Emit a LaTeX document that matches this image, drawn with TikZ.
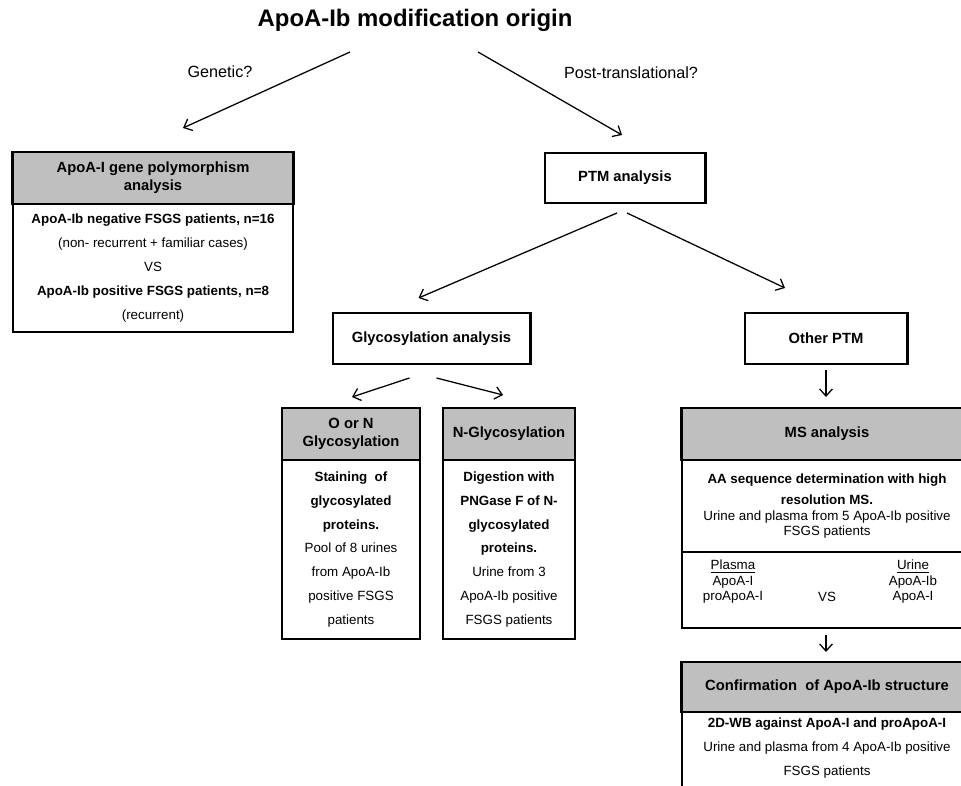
\documentclass[tikz,border=0pt]{standalone}
\usepackage{fontspec}
\setmainfont{Liberation Sans}
\usetikzlibrary{arrows.meta, calc}
\definecolor{headgray}{RGB}{191,191,191}

\begin{document}
\begin{tikzpicture}[x=0.025cm,y=-0.025cm,
  headbox/.style={draw, line width=2.1pt, fill=headgray, outer sep=0pt, inner sep=0pt, align=center, font=\fontsize{10.5}{13}\selectfont\bfseries},
  plainbox/.style={draw, line width=2.1pt, fill=white, outer sep=0pt, inner sep=0pt, align=center, font=\fontsize{10.5}{13}\selectfont\bfseries},
  bodybox/.style={draw, line width=0.8pt, outer sep=0pt, inner sep=0pt, align=center, font=\fontsize{9.5}{17}\selectfont},
  bodytext/.style={inner sep=0pt, align=center, font=\fontsize{9.5}{11}\selectfont},
  arr/.style={line width=0.9pt, -{Straight Barb[length=5pt,width=9pt]}},
  lbl/.style={font=\fontsize{11.5}{14}\selectfont}]
\clip (0,0) rectangle (961,786);
%\draw[step=50,gray,very thin] (0,0) grid (961,786); %background grid

% top
\node[font=\fontsize{17}{20}\selectfont\bfseries] (title) at (415,20) {ApoA-Ib modification origin};
\node[lbl] (genetic) at (220,72) {Genetic?};
\node[lbl] (posttrans) at (631,73) {Post-translational?};

% genetic branch
\node[bodybox, minimum width=7cm, minimum height=3.2cm] (genbody) at (153,268)
  {\textbf{ApoA-Ib negative FSGS patients, n=16}\\(non- recurrent + familiar cases)\\VS\\\textbf{ApoA-Ib positive FSGS patients, n=8}\\(recurrent)};
\node[headbox, minimum width=7cm, minimum height=1.3cm] (genhead) at (153,178) {ApoA-I gene polymorphism\\analysis};

% PTM branch
\node[plainbox, minimum width=4cm, minimum height=1.25cm] (ptm) at (625,178) {PTM analysis};
\node[plainbox, minimum width=4.925cm, minimum height=1.275cm] (glyco) at (431.5,338.5) {Glycosylation analysis};
\node[plainbox, minimum width=4.05cm, minimum height=1.275cm] (other) at (826,338.5) {Other PTM};

% glycosylation boxes
\node[bodybox, minimum width=3.45cm, minimum height=4.475cm] (onbody) at (351,549.5)
  {\textbf{Staining\ \ of}\\\textbf{glycosylated}\\\textbf{proteins.}\\Pool of 8 urines\\from ApoA-Ib\\positive FSGS\\patients};
\node[headbox, minimum width=3.45cm, minimum height=1.3cm] (onhead) at (351,434) {O or N\\Glycosylation};
\node[bodybox, minimum width=3.3cm, minimum height=4.475cm] (nbody) at (509,549.5)
  {\textbf{Digestion with}\\\textbf{PNGase F of N-}\\\textbf{glycosylated}\\\textbf{proteins.}\\Urine from 3\\ApoA-Ib positive\\FSGS patients};
\node[headbox, minimum width=3.3cm, minimum height=1.3cm] (nhead) at (509,434) {N-Glycosylation};

% MS
\node[bodybox, minimum width=7.25cm, minimum height=2.3cm, font=\fontsize{9.5}{11}\selectfont] (msbody) at (827,506)
  {\textbf{AA sequence determination with high}\\[4.5pt]\textbf{resolution MS.}\\Urine and plasma from 5 ApoA-Ib positive\\FSGS patients};
\node[bodybox, minimum width=7.25cm, minimum height=1.9cm] (mscomp) at (827,590) {};
\node[bodytext] (plasma) at (733,582) {\underline{Plasma}\\ApoA-I\\proApoA-I};
\node[bodytext] (vs) at (827,597) {VS};
\node[bodytext] (urine) at (913,582) {\underline{Urine}\\ApoA-Ib\\ApoA-I};
\node[headbox, minimum width=7.25cm, minimum height=1.3cm] (mshead) at (827,434) {MS analysis};

% confirmation
\node[bodybox, minimum width=7.25cm, minimum height=2.2cm] (confbody) at (827,756) {};
\node[bodytext, font=\fontsize{9.5}{17}\selectfont] (conftext) at (827,748)
  {\textbf{2D-WB against ApoA-I and proApoA-I}\\Urine and plasma from 4 ApoA-Ib positive\\FSGS patients};
\node[headbox, minimum width=7.25cm, minimum height=1.25cm] (confhead) at (827,687) {Confirmation\ \ of ApoA-Ib structure};

% arrows
\draw[arr] ($(title)+(-65,32)$) -- ($(genhead.north)+(30,-24)$);
\draw[arr] ($(title)+(63,32)$) -- ($(ptm.north)+(-3,-18)$);
\draw[arr] ($(ptm.south)+(-8,10)$) -- ($(glyco.north)+(-13,-15)$);
\draw[arr] ($(ptm.south)+(2,10)$) -- ($(other.north)+(-41,-25)$);
\draw[arr] ($(glyco.south)+(-22,14)$) -- ($(onhead.north)+(1,-11)$);
\draw[arr] ($(glyco.south)+(5,14)$) -- ($(nhead.north)+(-6,-13)$);
\draw[arr] ($(other.south)+(0,6)$) -- ($(mshead.north)+(-1,-11)$);
\draw[arr] ($(mscomp.south)+(-1,7)$) -- ($(confhead.north)+(-1,-10)$);
\end{tikzpicture}
\end{document}
